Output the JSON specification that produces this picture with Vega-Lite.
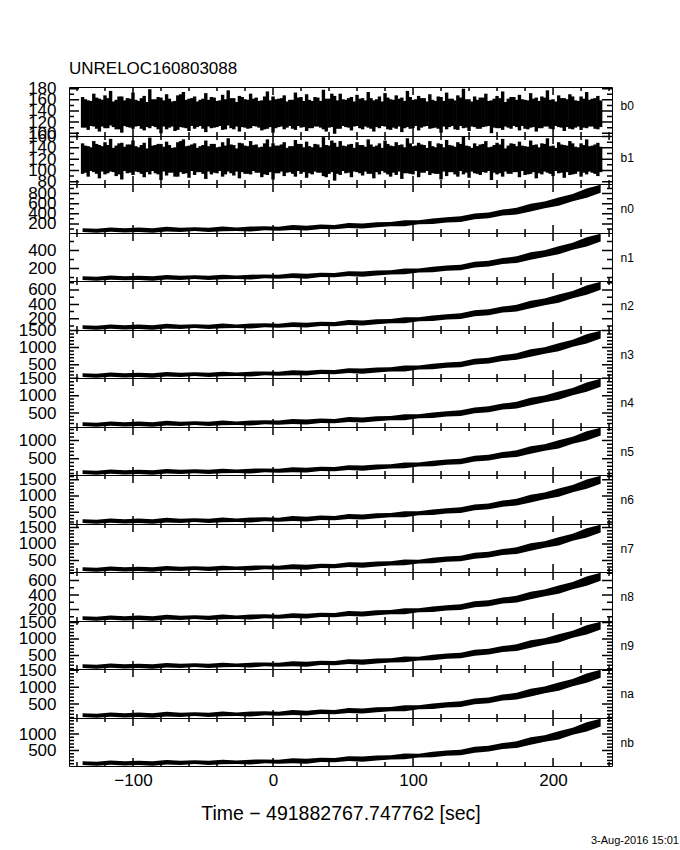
{
"$schema": "https://vega.github.io/schema/vega-lite/v6.json",
"padding": {"left": 17, "top": 60, "right": 2, "bottom": 2},
"title": {"text": "UNRELOC160803088", "anchor": "start", "frame": "group", "fontSize": 17, "fontWeight": "normal", "color": "black", "font": "Liberation Sans", "offset": 1},
"spacing": 0,
"bounds": "flush",
"datasets": {
"xt": [{"v":-100},{"v":0},{"v":100},{"v":200}],
"xm": [{"v":-140},{"v":-120},{"v":-80},{"v":-60},{"v":-40},{"v":-20},{"v":20},{"v":40},{"v":60},{"v":80},{"v":120},{"v":140},{"v":160},{"v":180},{"v":220},{"v":240}],
"yt": [
{"c":"b0","v":100},{"c":"b0","v":120},{"c":"b0","v":140},{"c":"b0","v":160},{"c":"b0","v":180},
{"c":"b1","v":80},{"c":"b1","v":100},{"c":"b1","v":120},{"c":"b1","v":140},{"c":"b1","v":160},
{"c":"n0","v":200},{"c":"n0","v":400},{"c":"n0","v":600},{"c":"n0","v":800},
{"c":"n1","v":200},{"c":"n1","v":400},
{"c":"n2","v":200},{"c":"n2","v":400},{"c":"n2","v":600},
{"c":"n3","v":500},{"c":"n3","v":1000},{"c":"n3","v":1500},
{"c":"n4","v":500},{"c":"n4","v":1000},{"c":"n4","v":1500},
{"c":"n5","v":500},{"c":"n5","v":1000},
{"c":"n6","v":500},{"c":"n6","v":1000},{"c":"n6","v":1500},
{"c":"n7","v":500},{"c":"n7","v":1000},{"c":"n7","v":1500},
{"c":"n8","v":200},{"c":"n8","v":400},{"c":"n8","v":600},
{"c":"n9","v":500},{"c":"n9","v":1000},{"c":"n9","v":1500},
{"c":"na","v":500},{"c":"na","v":1000},{"c":"na","v":1500},
{"c":"nb","v":500},{"c":"nb","v":1000}
],
"ym": [
{"c":"b0","v":110},{"c":"b0","v":130},{"c":"b0","v":150},{"c":"b0","v":170},
{"c":"b1","v":90},{"c":"b1","v":110},{"c":"b1","v":130},{"c":"b1","v":150},
{"c":"n0","v":100},{"c":"n0","v":300},{"c":"n0","v":500},{"c":"n0","v":700},{"c":"n0","v":900},
{"c":"n1","v":100},{"c":"n1","v":300},{"c":"n1","v":500},
{"c":"n2","v":100},{"c":"n2","v":300},{"c":"n2","v":500},{"c":"n2","v":700},
{"c":"n3","v":200},{"c":"n3","v":300},{"c":"n3","v":400},{"c":"n3","v":600},{"c":"n3","v":700},{"c":"n3","v":800},{"c":"n3","v":900},{"c":"n3","v":1100},{"c":"n3","v":1200},{"c":"n3","v":1300},{"c":"n3","v":1400},
{"c":"n4","v":200},{"c":"n4","v":300},{"c":"n4","v":400},{"c":"n4","v":600},{"c":"n4","v":700},{"c":"n4","v":800},{"c":"n4","v":900},{"c":"n4","v":1100},{"c":"n4","v":1200},{"c":"n4","v":1300},{"c":"n4","v":1400},
{"c":"n5","v":100},{"c":"n5","v":200},{"c":"n5","v":300},{"c":"n5","v":400},{"c":"n5","v":600},{"c":"n5","v":700},{"c":"n5","v":800},{"c":"n5","v":900},{"c":"n5","v":1100},{"c":"n5","v":1200},{"c":"n5","v":1300},
{"c":"n6","v":200},{"c":"n6","v":300},{"c":"n6","v":400},{"c":"n6","v":600},{"c":"n6","v":700},{"c":"n6","v":800},{"c":"n6","v":900},{"c":"n6","v":1100},{"c":"n6","v":1200},{"c":"n6","v":1300},{"c":"n6","v":1400},{"c":"n6","v":1600},
{"c":"n7","v":200},{"c":"n7","v":300},{"c":"n7","v":400},{"c":"n7","v":600},{"c":"n7","v":700},{"c":"n7","v":800},{"c":"n7","v":900},{"c":"n7","v":1100},{"c":"n7","v":1200},{"c":"n7","v":1300},{"c":"n7","v":1400},{"c":"n7","v":1600},
{"c":"n8","v":100},{"c":"n8","v":300},{"c":"n8","v":500},{"c":"n8","v":700},
{"c":"n9","v":100},{"c":"n9","v":200},{"c":"n9","v":300},{"c":"n9","v":400},{"c":"n9","v":600},{"c":"n9","v":700},{"c":"n9","v":800},{"c":"n9","v":900},{"c":"n9","v":1100},{"c":"n9","v":1200},{"c":"n9","v":1300},{"c":"n9","v":1400},
{"c":"na","v":100},{"c":"na","v":200},{"c":"na","v":300},{"c":"na","v":400},{"c":"na","v":600},{"c":"na","v":700},{"c":"na","v":800},{"c":"na","v":900},{"c":"na","v":1100},{"c":"na","v":1200},{"c":"na","v":1300},{"c":"na","v":1400},
{"c":"nb","v":100},{"c":"nb","v":200},{"c":"nb","v":300},{"c":"nb","v":400},{"c":"nb","v":600},{"c":"nb","v":700},{"c":"nb","v":800},{"c":"nb","v":900},{"c":"nb","v":1100},{"c":"nb","v":1200},{"c":"nb","v":1300},{"c":"nb","v":1400}
],
"b": [
{"t":-136,"b0l":110,"b0h":165,"b1l":94,"b1h":148},{"t":-132,"b0l":106,"b0h":159,"b1l":89,"b1h":143},{"t":-128,"b0l":112,"b0h":171,"b1l":97,"b1h":152},{"t":-124,"b0l":103,"b0h":162,"b1l":86,"b1h":145},{"t":-120,"b0l":109,"b0h":168,"b1l":93,"b1h":150},{"t":-116,"b0l":114,"b0h":176,"b1l":98,"b1h":156},{"t":-112,"b0l":107,"b0h":160,"b1l":90,"b1h":144},{"t":-108,"b0l":101,"b0h":166,"b1l":84,"b1h":149},{"t":-104,"b0l":111,"b0h":163,"b1l":95,"b1h":146},{"t":-100,"b0l":108,"b0h":173,"b1l":92,"b1h":153},
{"t":-134,"b0l":110,"b0h":161,"b1l":96,"b1h":144},{"t":-130,"b0l":113,"b0h":158,"b1l":99,"b1h":141},{"t":-126,"b0l":108,"b0h":164,"b1l":94,"b1h":147},{"t":-122,"b0l":112,"b0h":160,"b1l":98,"b1h":143},{"t":-118,"b0l":109,"b0h":163,"b1l":95,"b1h":145},{"t":-114,"b0l":111,"b0h":157,"b1l":97,"b1h":140},{"t":-110,"b0l":107,"b0h":166,"b1l":93,"b1h":148},{"t":-106,"b0l":113,"b0h":159,"b1l":99,"b1h":142},{"t":-102,"b0l":110,"b0h":162,"b1l":96,"b1h":146},{"t":-98,"b0l":112,"b0h":160,"b1l":98,"b1h":143},
{"t":-96,"b0l":113,"b0h":158,"b1l":97,"b1h":141},{"t":-92,"b0l":105,"b0h":167,"b1l":88,"b1h":149},{"t":-88,"b0l":109,"b0h":179,"b1l":93,"b1h":158},{"t":-84,"b0l":111,"b0h":161,"b1l":95,"b1h":145},{"t":-80,"b0l":100,"b0h":164,"b1l":83,"b1h":147},{"t":-76,"b0l":107,"b0h":170,"b1l":91,"b1h":151},{"t":-72,"b0l":112,"b0h":157,"b1l":96,"b1h":140},{"t":-68,"b0l":106,"b0h":168,"b1l":89,"b1h":150},{"t":-64,"b0l":110,"b0h":174,"b1l":94,"b1h":155},{"t":-60,"b0l":104,"b0h":162,"b1l":87,"b1h":144},
{"t":-94,"b0l":108,"b0h":163,"b1l":94,"b1h":145},{"t":-90,"b0l":111,"b0h":156,"b1l":97,"b1h":139},{"t":-86,"b0l":113,"b0h":161,"b1l":99,"b1h":144},{"t":-82,"b0l":107,"b0h":165,"b1l":93,"b1h":147},{"t":-78,"b0l":112,"b0h":159,"b1l":98,"b1h":142},{"t":-74,"b0l":110,"b0h":162,"b1l":96,"b1h":145},{"t":-70,"b0l":104,"b0h":158,"b1l":89,"b1h":141},{"t":-66,"b0l":111,"b0h":170,"b1l":97,"b1h":152},{"t":-62,"b0l":109,"b0h":160,"b1l":95,"b1h":143},{"t":-58,"b0l":113,"b0h":163,"b1l":99,"b1h":146},
{"t":-56,"b0l":108,"b0h":166,"b1l":92,"b1h":148},{"t":-52,"b0l":113,"b0h":160,"b1l":97,"b1h":143},{"t":-48,"b0l":102,"b0h":172,"b1l":85,"b1h":153},{"t":-44,"b0l":109,"b0h":165,"b1l":93,"b1h":147},{"t":-40,"b0l":111,"b0h":158,"b1l":95,"b1h":141},{"t":-36,"b0l":106,"b0h":169,"b1l":89,"b1h":150},{"t":-32,"b0l":114,"b0h":177,"b1l":98,"b1h":157},{"t":-28,"b0l":107,"b0h":163,"b1l":91,"b1h":145},{"t":-24,"b0l":103,"b0h":167,"b1l":86,"b1h":149},{"t":-20,"b0l":110,"b0h":161,"b1l":94,"b1h":144},
{"t":-54,"b0l":111,"b0h":157,"b1l":97,"b1h":140},{"t":-50,"b0l":108,"b0h":162,"b1l":94,"b1h":145},{"t":-46,"b0l":112,"b0h":160,"b1l":98,"b1h":143},{"t":-42,"b0l":110,"b0h":164,"b1l":96,"b1h":147},{"t":-38,"b0l":113,"b0h":159,"b1l":99,"b1h":142},{"t":-34,"b0l":107,"b0h":161,"b1l":93,"b1h":144},{"t":-30,"b0l":109,"b0h":163,"b1l":95,"b1h":146},{"t":-26,"b0l":112,"b0h":156,"b1l":98,"b1h":139},{"t":-22,"b0l":111,"b0h":165,"b1l":97,"b1h":148},{"t":-18,"b0l":108,"b0h":160,"b1l":94,"b1h":143},
{"t":-16,"b0l":109,"b0h":171,"b1l":93,"b1h":152},{"t":-12,"b0l":112,"b0h":164,"b1l":96,"b1h":146},{"t":-8,"b0l":105,"b0h":159,"b1l":88,"b1h":142},{"t":-4,"b0l":108,"b0h":175,"b1l":92,"b1h":155},{"t":0,"b0l":101,"b0h":166,"b1l":84,"b1h":148},{"t":4,"b0l":111,"b0h":162,"b1l":95,"b1h":144},{"t":8,"b0l":107,"b0h":168,"b1l":90,"b1h":150},{"t":12,"b0l":113,"b0h":160,"b1l":97,"b1h":143},{"t":16,"b0l":106,"b0h":173,"b1l":89,"b1h":154},{"t":20,"b0l":110,"b0h":165,"b1l":94,"b1h":147},
{"t":-14,"b0l":113,"b0h":162,"b1l":99,"b1h":145},{"t":-10,"b0l":110,"b0h":158,"b1l":96,"b1h":141},{"t":-6,"b0l":107,"b0h":166,"b1l":93,"b1h":148},{"t":-2,"b0l":111,"b0h":159,"b1l":97,"b1h":142},{"t":2,"b0l":109,"b0h":161,"b1l":95,"b1h":144},{"t":6,"b0l":112,"b0h":163,"b1l":98,"b1h":146},{"t":10,"b0l":110,"b0h":157,"b1l":96,"b1h":140},{"t":14,"b0l":108,"b0h":160,"b1l":94,"b1h":143},{"t":18,"b0l":113,"b0h":164,"b1l":99,"b1h":147},{"t":22,"b0l":111,"b0h":158,"b1l":97,"b1h":141},
{"t":24,"b0l":104,"b0h":170,"b1l":87,"b1h":151},{"t":28,"b0l":109,"b0h":158,"b1l":93,"b1h":141},{"t":32,"b0l":112,"b0h":164,"b1l":96,"b1h":146},{"t":36,"b0l":107,"b0h":178,"b1l":90,"b1h":159},{"t":40,"b0l":110,"b0h":162,"b1l":94,"b1h":144},{"t":44,"b0l":99,"b0h":167,"b1l":82,"b1h":149},{"t":48,"b0l":108,"b0h":171,"b1l":92,"b1h":152},{"t":52,"b0l":111,"b0h":160,"b1l":95,"b1h":143},{"t":56,"b0l":105,"b0h":165,"b1l":88,"b1h":147},{"t":60,"b0l":113,"b0h":169,"b1l":97,"b1h":150},
{"t":26,"b0l":109,"b0h":160,"b1l":95,"b1h":143},{"t":30,"b0l":112,"b0h":165,"b1l":98,"b1h":147},{"t":34,"b0l":110,"b0h":158,"b1l":96,"b1h":141},{"t":38,"b0l":103,"b0h":162,"b1l":88,"b1h":145},{"t":42,"b0l":111,"b0h":171,"b1l":97,"b1h":153},{"t":46,"b0l":108,"b0h":159,"b1l":94,"b1h":142},{"t":50,"b0l":113,"b0h":161,"b1l":99,"b1h":144},{"t":54,"b0l":110,"b0h":163,"b1l":96,"b1h":146},{"t":58,"b0l":112,"b0h":157,"b1l":98,"b1h":140},{"t":62,"b0l":109,"b0h":162,"b1l":95,"b1h":145},
{"t":64,"b0l":107,"b0h":163,"b1l":91,"b1h":145},{"t":68,"b0l":110,"b0h":174,"b1l":94,"b1h":155},{"t":72,"b0l":103,"b0h":159,"b1l":86,"b1h":142},{"t":76,"b0l":109,"b0h":166,"b1l":93,"b1h":148},{"t":80,"b0l":112,"b0h":172,"b1l":96,"b1h":153},{"t":84,"b0l":106,"b0h":161,"b1l":89,"b1h":144},{"t":88,"b0l":108,"b0h":168,"b1l":92,"b1h":150},{"t":92,"b0l":102,"b0h":164,"b1l":85,"b1h":146},{"t":96,"b0l":111,"b0h":176,"b1l":95,"b1h":157},{"t":100,"b0l":109,"b0h":160,"b1l":93,"b1h":143},
{"t":66,"b0l":112,"b0h":159,"b1l":98,"b1h":142},{"t":70,"b0l":108,"b0h":163,"b1l":94,"b1h":146},{"t":74,"b0l":111,"b0h":161,"b1l":97,"b1h":144},{"t":78,"b0l":113,"b0h":157,"b1l":99,"b1h":140},{"t":82,"b0l":107,"b0h":164,"b1l":93,"b1h":147},{"t":86,"b0l":110,"b0h":160,"b1l":96,"b1h":143},{"t":90,"b0l":112,"b0h":162,"b1l":98,"b1h":145},{"t":94,"b0l":109,"b0h":158,"b1l":95,"b1h":141},{"t":98,"b0l":108,"b0h":165,"b1l":94,"b1h":148},{"t":102,"b0l":113,"b0h":161,"b1l":99,"b1h":144},
{"t":104,"b0l":105,"b0h":167,"b1l":88,"b1h":149},{"t":108,"b0l":112,"b0h":163,"b1l":96,"b1h":145},{"t":112,"b0l":108,"b0h":170,"b1l":92,"b1h":152},{"t":116,"b0l":110,"b0h":158,"b1l":94,"b1h":141},{"t":120,"b0l":101,"b0h":165,"b1l":84,"b1h":147},{"t":124,"b0l":107,"b0h":173,"b1l":90,"b1h":154},{"t":128,"b0l":113,"b0h":162,"b1l":97,"b1h":144},{"t":132,"b0l":106,"b0h":168,"b1l":89,"b1h":150},{"t":136,"b0l":109,"b0h":180,"b1l":93,"b1h":160},{"t":140,"b0l":104,"b0h":161,"b1l":87,"b1h":143},
{"t":106,"b0l":110,"b0h":163,"b1l":96,"b1h":146},{"t":110,"b0l":113,"b0h":157,"b1l":99,"b1h":140},{"t":114,"b0l":109,"b0h":160,"b1l":95,"b1h":143},{"t":118,"b0l":108,"b0h":166,"b1l":94,"b1h":148},{"t":122,"b0l":112,"b0h":158,"b1l":98,"b1h":141},{"t":126,"b0l":111,"b0h":162,"b1l":97,"b1h":145},{"t":130,"b0l":107,"b0h":159,"b1l":93,"b1h":142},{"t":134,"b0l":113,"b0h":164,"b1l":99,"b1h":147},{"t":138,"b0l":110,"b0h":161,"b1l":96,"b1h":144},{"t":142,"b0l":112,"b0h":157,"b1l":98,"b1h":140},
{"t":144,"b0l":111,"b0h":166,"b1l":95,"b1h":148},{"t":148,"b0l":108,"b0h":164,"b1l":92,"b1h":146},{"t":152,"b0l":112,"b0h":171,"b1l":96,"b1h":152},{"t":156,"b0l":100,"b0h":159,"b1l":83,"b1h":142},{"t":160,"b0l":109,"b0h":167,"b1l":93,"b1h":149},{"t":164,"b0l":106,"b0h":175,"b1l":89,"b1h":156},{"t":168,"b0l":110,"b0h":162,"b1l":94,"b1h":144},{"t":172,"b0l":113,"b0h":165,"b1l":97,"b1h":147},{"t":176,"b0l":105,"b0h":169,"b1l":88,"b1h":151},{"t":180,"b0l":108,"b0h":160,"b1l":92,"b1h":143},
{"t":146,"b0l":108,"b0h":160,"b1l":94,"b1h":143},{"t":150,"b0l":111,"b0h":164,"b1l":97,"b1h":147},{"t":154,"b0l":113,"b0h":158,"b1l":99,"b1h":141},{"t":158,"b0l":110,"b0h":162,"b1l":96,"b1h":145},{"t":162,"b0l":109,"b0h":163,"b1l":95,"b1h":146},{"t":166,"b0l":112,"b0h":156,"b1l":98,"b1h":139},{"t":170,"b0l":108,"b0h":165,"b1l":94,"b1h":148},{"t":174,"b0l":111,"b0h":160,"b1l":97,"b1h":143},{"t":178,"b0l":113,"b0h":161,"b1l":99,"b1h":144},{"t":182,"b0l":107,"b0h":159,"b1l":93,"b1h":142},
{"t":184,"b0l":110,"b0h":172,"b1l":94,"b1h":153},{"t":188,"b0l":103,"b0h":164,"b1l":86,"b1h":146},{"t":192,"b0l":109,"b0h":166,"b1l":93,"b1h":148},{"t":196,"b0l":112,"b0h":177,"b1l":96,"b1h":157},{"t":200,"b0l":107,"b0h":161,"b1l":90,"b1h":144},{"t":204,"b0l":111,"b0h":168,"b1l":95,"b1h":150},{"t":208,"b0l":104,"b0h":163,"b1l":87,"b1h":145},{"t":212,"b0l":108,"b0h":170,"b1l":92,"b1h":152},{"t":216,"b0l":110,"b0h":159,"b1l":94,"b1h":142},{"t":220,"b0l":106,"b0h":166,"b1l":89,"b1h":148},
{"t":186,"b0l":111,"b0h":162,"b1l":97,"b1h":145},{"t":190,"b0l":109,"b0h":158,"b1l":95,"b1h":141},{"t":194,"b0l":112,"b0h":164,"b1l":98,"b1h":147},{"t":198,"b0l":108,"b0h":160,"b1l":94,"b1h":143},{"t":202,"b0l":113,"b0h":157,"b1l":99,"b1h":140},{"t":206,"b0l":110,"b0h":163,"b1l":96,"b1h":146},{"t":210,"b0l":111,"b0h":161,"b1l":97,"b1h":144},{"t":214,"b0l":107,"b0h":166,"b1l":93,"b1h":148},{"t":218,"b0l":112,"b0h":158,"b1l":98,"b1h":141},{"t":222,"b0l":110,"b0h":162,"b1l":96,"b1h":145},
{"t":224,"b0l":109,"b0h":174,"b1l":93,"b1h":155},{"t":228,"b0l":112,"b0h":162,"b1l":96,"b1h":144},{"t":232,"b0l":107,"b0h":167,"b1l":90,"b1h":149},
{"t":226,"b0l":112,"b0h":160,"b1l":98,"b1h":143},{"t":230,"b0l":108,"b0h":163,"b1l":94,"b1h":146},{"t":234,"b0l":111,"b0h":159,"b1l":97,"b1h":142}
],
"n": [
{"c":"n0","t":-136,"l":38,"h":116},{"c":"n0","t":-126,"l":26,"h":106},{"c":"n0","t":-116,"l":46,"h":130},{"c":"n0","t":-106,"l":32,"h":114},{"c":"n0","t":-96,"l":40,"h":128},{"c":"n0","t":-86,"l":24,"h":114},{"c":"n0","t":-76,"l":50,"h":142},{"c":"n0","t":-66,"l":40,"h":124},{"c":"n0","t":-56,"l":58,"h":136},{"c":"n0","t":-46,"l":38,"h":126},{"c":"n0","t":-36,"l":54,"h":148},{"c":"n0","t":-26,"l":60,"h":130},{"c":"n0","t":-16,"l":50,"h":148},{"c":"n0","t":-6,"l":76,"h":152},{"c":"n0","t":4,"l":64,"h":146},{"c":"n0","t":14,"l":78,"h":176},{"c":"n0","t":24,"l":68,"h":166},{"c":"n0","t":34,"l":100,"h":186},{"c":"n0","t":44,"l":96,"h":180},{"c":"n0","t":54,"l":120,"h":216},{"c":"n0","t":64,"l":108,"h":210},{"c":"n0","t":74,"l":132,"h":232},{"c":"n0","t":84,"l":152,"h":236},{"c":"n0","t":94,"l":154,"h":272},{"c":"n0","t":104,"l":192,"h":270},{"c":"n0","t":114,"l":196,"h":308},{"c":"n0","t":124,"l":228,"h":332},{"c":"n0","t":134,"l":236,"h":350},{"c":"n0","t":144,"l":290,"h":408},{"c":"n0","t":154,"l":312,"h":428},{"c":"n0","t":164,"l":364,"h":484},{"c":"n0","t":174,"l":386,"h":518},{"c":"n0","t":184,"l":448,"h":600},{"c":"n0","t":194,"l":508,"h":642},{"c":"n0","t":204,"l":558,"h":722},{"c":"n0","t":214,"l":650,"h":792},{"c":"n0","t":224,"l":716,"h":902},{"c":"n0","t":234,"l":816,"h":976},
{"c":"n1","t":-136,"l":70,"h":113},{"c":"n1","t":-126,"l":63,"h":107},{"c":"n1","t":-116,"l":74,"h":121},{"c":"n1","t":-106,"l":67,"h":112},{"c":"n1","t":-96,"l":71,"h":119},{"c":"n1","t":-86,"l":62,"h":112},{"c":"n1","t":-76,"l":77,"h":127},{"c":"n1","t":-66,"l":71,"h":117},{"c":"n1","t":-56,"l":81,"h":124},{"c":"n1","t":-46,"l":70,"h":118},{"c":"n1","t":-36,"l":79,"h":130},{"c":"n1","t":-26,"l":82,"h":121},{"c":"n1","t":-16,"l":77,"h":130},{"c":"n1","t":-6,"l":91,"h":133},{"c":"n1","t":4,"l":84,"h":129},{"c":"n1","t":14,"l":92,"h":146},{"c":"n1","t":24,"l":86,"h":140},{"c":"n1","t":34,"l":104,"h":151},{"c":"n1","t":44,"l":102,"h":148},{"c":"n1","t":54,"l":115,"h":168},{"c":"n1","t":64,"l":108,"h":165},{"c":"n1","t":74,"l":122,"h":177},{"c":"n1","t":84,"l":133,"h":179},{"c":"n1","t":94,"l":134,"h":199},{"c":"n1","t":104,"l":155,"h":198},{"c":"n1","t":114,"l":157,"h":218},{"c":"n1","t":124,"l":174,"h":232},{"c":"n1","t":134,"l":179,"h":242},{"c":"n1","t":144,"l":209,"h":273},{"c":"n1","t":154,"l":221,"h":284},{"c":"n1","t":164,"l":249,"h":315},{"c":"n1","t":174,"l":261,"h":334},{"c":"n1","t":184,"l":295,"h":379},{"c":"n1","t":194,"l":328,"h":402},{"c":"n1","t":204,"l":356,"h":446},{"c":"n1","t":214,"l":407,"h":485},{"c":"n1","t":224,"l":443,"h":545},{"c":"n1","t":234,"l":498,"h":586},
{"c":"n2","t":-136,"l":58,"h":112},{"c":"n2","t":-126,"l":49,"h":105},{"c":"n2","t":-116,"l":63,"h":122},{"c":"n2","t":-106,"l":53,"h":111},{"c":"n2","t":-96,"l":59,"h":121},{"c":"n2","t":-86,"l":48,"h":111},{"c":"n2","t":-76,"l":66,"h":130},{"c":"n2","t":-66,"l":59,"h":118},{"c":"n2","t":-56,"l":72,"h":126},{"c":"n2","t":-46,"l":58,"h":119},{"c":"n2","t":-36,"l":69,"h":135},{"c":"n2","t":-26,"l":73,"h":122},{"c":"n2","t":-16,"l":66,"h":135},{"c":"n2","t":-6,"l":84,"h":137},{"c":"n2","t":4,"l":76,"h":133},{"c":"n2","t":14,"l":86,"h":154},{"c":"n2","t":24,"l":79,"h":147},{"c":"n2","t":34,"l":101,"h":161},{"c":"n2","t":44,"l":98,"h":157},{"c":"n2","t":54,"l":115,"h":182},{"c":"n2","t":64,"l":107,"h":178},{"c":"n2","t":74,"l":123,"h":193},{"c":"n2","t":84,"l":137,"h":196},{"c":"n2","t":94,"l":139,"h":221},{"c":"n2","t":104,"l":165,"h":220},{"c":"n2","t":114,"l":168,"h":247},{"c":"n2","t":124,"l":191,"h":263},{"c":"n2","t":134,"l":196,"h":276},{"c":"n2","t":144,"l":234,"h":317},{"c":"n2","t":154,"l":249,"h":331},{"c":"n2","t":164,"l":286,"h":370},{"c":"n2","t":174,"l":301,"h":394},{"c":"n2","t":184,"l":345,"h":451},{"c":"n2","t":194,"l":387,"h":480},{"c":"n2","t":204,"l":422,"h":536},{"c":"n2","t":214,"l":486,"h":585},{"c":"n2","t":224,"l":532,"h":662},{"c":"n2","t":234,"l":602,"h":714},
{"c":"n3","t":-136,"l":136,"h":249},{"c":"n3","t":-126,"l":119,"h":235},{"c":"n3","t":-116,"l":148,"h":270},{"c":"n3","t":-106,"l":127,"h":246},{"c":"n3","t":-96,"l":139,"h":267},{"c":"n3","t":-86,"l":116,"h":246},{"c":"n3","t":-76,"l":154,"h":287},{"c":"n3","t":-66,"l":139,"h":261},{"c":"n3","t":-56,"l":165,"h":278},{"c":"n3","t":-46,"l":136,"h":264},{"c":"n3","t":-36,"l":159,"h":296},{"c":"n3","t":-26,"l":168,"h":270},{"c":"n3","t":-16,"l":154,"h":296},{"c":"n3","t":-6,"l":191,"h":301},{"c":"n3","t":4,"l":174,"h":293},{"c":"n3","t":14,"l":194,"h":336},{"c":"n3","t":24,"l":180,"h":322},{"c":"n3","t":34,"l":226,"h":351},{"c":"n3","t":44,"l":220,"h":342},{"c":"n3","t":54,"l":255,"h":394},{"c":"n3","t":64,"l":238,"h":386},{"c":"n3","t":74,"l":272,"h":417},{"c":"n3","t":84,"l":301,"h":423},{"c":"n3","t":94,"l":304,"h":475},{"c":"n3","t":104,"l":359,"h":473},{"c":"n3","t":114,"l":365,"h":528},{"c":"n3","t":124,"l":412,"h":562},{"c":"n3","t":134,"l":423,"h":589},{"c":"n3","t":144,"l":502,"h":673},{"c":"n3","t":154,"l":533,"h":702},{"c":"n3","t":164,"l":609,"h":783},{"c":"n3","t":174,"l":641,"h":832},{"c":"n3","t":184,"l":731,"h":951},{"c":"n3","t":194,"l":818,"h":1012},{"c":"n3","t":204,"l":890,"h":1128},{"c":"n3","t":214,"l":1024,"h":1229},{"c":"n3","t":224,"l":1119,"h":1389},{"c":"n3","t":234,"l":1264,"h":1496},
{"c":"n4","t":-136,"l":126,"h":239},{"c":"n4","t":-126,"l":109,"h":225},{"c":"n4","t":-116,"l":138,"h":260},{"c":"n4","t":-106,"l":117,"h":236},{"c":"n4","t":-96,"l":129,"h":257},{"c":"n4","t":-86,"l":106,"h":236},{"c":"n4","t":-76,"l":144,"h":277},{"c":"n4","t":-66,"l":129,"h":251},{"c":"n4","t":-56,"l":155,"h":268},{"c":"n4","t":-46,"l":126,"h":254},{"c":"n4","t":-36,"l":149,"h":286},{"c":"n4","t":-26,"l":158,"h":260},{"c":"n4","t":-16,"l":144,"h":286},{"c":"n4","t":-6,"l":181,"h":291},{"c":"n4","t":4,"l":164,"h":283},{"c":"n4","t":14,"l":184,"h":326},{"c":"n4","t":24,"l":170,"h":312},{"c":"n4","t":34,"l":216,"h":341},{"c":"n4","t":44,"l":210,"h":332},{"c":"n4","t":54,"l":245,"h":384},{"c":"n4","t":64,"l":228,"h":376},{"c":"n4","t":74,"l":262,"h":407},{"c":"n4","t":84,"l":291,"h":413},{"c":"n4","t":94,"l":294,"h":465},{"c":"n4","t":104,"l":349,"h":463},{"c":"n4","t":114,"l":355,"h":518},{"c":"n4","t":124,"l":402,"h":552},{"c":"n4","t":134,"l":413,"h":579},{"c":"n4","t":144,"l":492,"h":663},{"c":"n4","t":154,"l":523,"h":692},{"c":"n4","t":164,"l":599,"h":773},{"c":"n4","t":174,"l":631,"h":822},{"c":"n4","t":184,"l":721,"h":941},{"c":"n4","t":194,"l":808,"h":1002},{"c":"n4","t":204,"l":880,"h":1118},{"c":"n4","t":214,"l":1014,"h":1219},{"c":"n4","t":224,"l":1109,"h":1379},{"c":"n4","t":234,"l":1254,"h":1486},
{"c":"n5","t":-136,"l":84,"h":190},{"c":"n5","t":-126,"l":68,"h":176},{"c":"n5","t":-116,"l":95,"h":209},{"c":"n5","t":-106,"l":76,"h":187},{"c":"n5","t":-96,"l":87,"h":206},{"c":"n5","t":-86,"l":65,"h":187},{"c":"n5","t":-76,"l":101,"h":225},{"c":"n5","t":-66,"l":87,"h":200},{"c":"n5","t":-56,"l":111,"h":217},{"c":"n5","t":-46,"l":84,"h":203},{"c":"n5","t":-36,"l":106,"h":233},{"c":"n5","t":-26,"l":114,"h":209},{"c":"n5","t":-16,"l":101,"h":233},{"c":"n5","t":-6,"l":136,"h":238},{"c":"n5","t":4,"l":119,"h":230},{"c":"n5","t":14,"l":138,"h":271},{"c":"n5","t":24,"l":125,"h":257},{"c":"n5","t":34,"l":168,"h":284},{"c":"n5","t":44,"l":163,"h":276},{"c":"n5","t":54,"l":195,"h":325},{"c":"n5","t":64,"l":179,"h":317},{"c":"n5","t":74,"l":211,"h":346},{"c":"n5","t":84,"l":238,"h":352},{"c":"n5","t":94,"l":241,"h":400},{"c":"n5","t":104,"l":292,"h":398},{"c":"n5","t":114,"l":298,"h":449},{"c":"n5","t":124,"l":341,"h":481},{"c":"n5","t":134,"l":352,"h":506},{"c":"n5","t":144,"l":425,"h":584},{"c":"n5","t":154,"l":454,"h":611},{"c":"n5","t":164,"l":524,"h":686},{"c":"n5","t":174,"l":554,"h":732},{"c":"n5","t":184,"l":638,"h":843},{"c":"n5","t":194,"l":719,"h":900},{"c":"n5","t":204,"l":786,"h":1008},{"c":"n5","t":214,"l":911,"h":1102},{"c":"n5","t":224,"l":1000,"h":1251},{"c":"n5","t":234,"l":1135,"h":1351},
{"c":"n6","t":-136,"l":168,"h":289},{"c":"n6","t":-126,"l":149,"h":273},{"c":"n6","t":-116,"l":180,"h":311},{"c":"n6","t":-106,"l":159,"h":286},{"c":"n6","t":-96,"l":171,"h":307},{"c":"n6","t":-86,"l":146,"h":286},{"c":"n6","t":-76,"l":187,"h":329},{"c":"n6","t":-66,"l":171,"h":301},{"c":"n6","t":-56,"l":199,"h":320},{"c":"n6","t":-46,"l":168,"h":304},{"c":"n6","t":-36,"l":193,"h":338},{"c":"n6","t":-26,"l":202,"h":311},{"c":"n6","t":-16,"l":187,"h":338},{"c":"n6","t":-6,"l":227,"h":345},{"c":"n6","t":4,"l":208,"h":335},{"c":"n6","t":14,"l":230,"h":382},{"c":"n6","t":24,"l":214,"h":366},{"c":"n6","t":34,"l":264,"h":397},{"c":"n6","t":44,"l":258,"h":388},{"c":"n6","t":54,"l":295,"h":444},{"c":"n6","t":64,"l":276,"h":435},{"c":"n6","t":74,"l":314,"h":469},{"c":"n6","t":84,"l":345,"h":475},{"c":"n6","t":94,"l":348,"h":531},{"c":"n6","t":104,"l":407,"h":528},{"c":"n6","t":114,"l":413,"h":586},{"c":"n6","t":124,"l":462,"h":624},{"c":"n6","t":134,"l":475,"h":652},{"c":"n6","t":144,"l":559,"h":741},{"c":"n6","t":154,"l":593,"h":772},{"c":"n6","t":164,"l":673,"h":859},{"c":"n6","t":174,"l":707,"h":912},{"c":"n6","t":184,"l":803,"h":1039},{"c":"n6","t":194,"l":896,"h":1104},{"c":"n6","t":204,"l":974,"h":1228},{"c":"n6","t":214,"l":1117,"h":1337},{"c":"n6","t":224,"l":1219,"h":1507},{"c":"n6","t":234,"l":1374,"h":1622},
{"c":"n7","t":-136,"l":177,"h":294},{"c":"n7","t":-126,"l":159,"h":279},{"c":"n7","t":-116,"l":189,"h":315},{"c":"n7","t":-106,"l":168,"h":291},{"c":"n7","t":-96,"l":180,"h":312},{"c":"n7","t":-86,"l":156,"h":291},{"c":"n7","t":-76,"l":195,"h":333},{"c":"n7","t":-66,"l":180,"h":306},{"c":"n7","t":-56,"l":207,"h":324},{"c":"n7","t":-46,"l":177,"h":309},{"c":"n7","t":-36,"l":201,"h":342},{"c":"n7","t":-26,"l":210,"h":315},{"c":"n7","t":-16,"l":195,"h":342},{"c":"n7","t":-6,"l":234,"h":348},{"c":"n7","t":4,"l":216,"h":339},{"c":"n7","t":14,"l":237,"h":384},{"c":"n7","t":24,"l":222,"h":369},{"c":"n7","t":34,"l":270,"h":399},{"c":"n7","t":44,"l":264,"h":390},{"c":"n7","t":54,"l":300,"h":444},{"c":"n7","t":64,"l":282,"h":435},{"c":"n7","t":74,"l":318,"h":468},{"c":"n7","t":84,"l":348,"h":474},{"c":"n7","t":94,"l":351,"h":528},{"c":"n7","t":104,"l":408,"h":525},{"c":"n7","t":114,"l":414,"h":582},{"c":"n7","t":124,"l":462,"h":618},{"c":"n7","t":134,"l":474,"h":645},{"c":"n7","t":144,"l":555,"h":732},{"c":"n7","t":154,"l":588,"h":762},{"c":"n7","t":164,"l":666,"h":846},{"c":"n7","t":174,"l":699,"h":897},{"c":"n7","t":184,"l":792,"h":1020},{"c":"n7","t":194,"l":882,"h":1083},{"c":"n7","t":204,"l":957,"h":1203},{"c":"n7","t":214,"l":1095,"h":1308},{"c":"n7","t":224,"l":1194,"h":1473},{"c":"n7","t":234,"l":1344,"h":1584},
{"c":"n8","t":-136,"l":53,"h":107},{"c":"n8","t":-126,"l":44,"h":100},{"c":"n8","t":-116,"l":58,"h":117},{"c":"n8","t":-106,"l":48,"h":106},{"c":"n8","t":-96,"l":54,"h":116},{"c":"n8","t":-86,"l":43,"h":106},{"c":"n8","t":-76,"l":61,"h":125},{"c":"n8","t":-66,"l":54,"h":113},{"c":"n8","t":-56,"l":67,"h":121},{"c":"n8","t":-46,"l":53,"h":114},{"c":"n8","t":-36,"l":64,"h":130},{"c":"n8","t":-26,"l":68,"h":117},{"c":"n8","t":-16,"l":61,"h":130},{"c":"n8","t":-6,"l":79,"h":132},{"c":"n8","t":4,"l":71,"h":128},{"c":"n8","t":14,"l":81,"h":149},{"c":"n8","t":24,"l":74,"h":142},{"c":"n8","t":34,"l":96,"h":156},{"c":"n8","t":44,"l":93,"h":152},{"c":"n8","t":54,"l":110,"h":177},{"c":"n8","t":64,"l":102,"h":173},{"c":"n8","t":74,"l":118,"h":188},{"c":"n8","t":84,"l":132,"h":191},{"c":"n8","t":94,"l":134,"h":216},{"c":"n8","t":104,"l":160,"h":215},{"c":"n8","t":114,"l":163,"h":242},{"c":"n8","t":124,"l":186,"h":258},{"c":"n8","t":134,"l":191,"h":271},{"c":"n8","t":144,"l":229,"h":312},{"c":"n8","t":154,"l":244,"h":326},{"c":"n8","t":164,"l":281,"h":365},{"c":"n8","t":174,"l":296,"h":389},{"c":"n8","t":184,"l":340,"h":446},{"c":"n8","t":194,"l":382,"h":475},{"c":"n8","t":204,"l":417,"h":531},{"c":"n8","t":214,"l":481,"h":580},{"c":"n8","t":224,"l":527,"h":657},{"c":"n8","t":234,"l":597,"h":709},
{"c":"n9","t":-136,"l":117,"h":234},{"c":"n9","t":-126,"l":99,"h":219},{"c":"n9","t":-116,"l":129,"h":255},{"c":"n9","t":-106,"l":108,"h":231},{"c":"n9","t":-96,"l":120,"h":252},{"c":"n9","t":-86,"l":96,"h":231},{"c":"n9","t":-76,"l":135,"h":273},{"c":"n9","t":-66,"l":120,"h":246},{"c":"n9","t":-56,"l":147,"h":264},{"c":"n9","t":-46,"l":117,"h":249},{"c":"n9","t":-36,"l":141,"h":282},{"c":"n9","t":-26,"l":150,"h":255},{"c":"n9","t":-16,"l":135,"h":282},{"c":"n9","t":-6,"l":174,"h":288},{"c":"n9","t":4,"l":156,"h":279},{"c":"n9","t":14,"l":177,"h":324},{"c":"n9","t":24,"l":162,"h":309},{"c":"n9","t":34,"l":210,"h":339},{"c":"n9","t":44,"l":204,"h":330},{"c":"n9","t":54,"l":240,"h":384},{"c":"n9","t":64,"l":222,"h":375},{"c":"n9","t":74,"l":258,"h":408},{"c":"n9","t":84,"l":288,"h":414},{"c":"n9","t":94,"l":291,"h":468},{"c":"n9","t":104,"l":348,"h":465},{"c":"n9","t":114,"l":354,"h":522},{"c":"n9","t":124,"l":402,"h":558},{"c":"n9","t":134,"l":414,"h":585},{"c":"n9","t":144,"l":495,"h":672},{"c":"n9","t":154,"l":528,"h":702},{"c":"n9","t":164,"l":606,"h":786},{"c":"n9","t":174,"l":639,"h":837},{"c":"n9","t":184,"l":732,"h":960},{"c":"n9","t":194,"l":822,"h":1023},{"c":"n9","t":204,"l":897,"h":1143},{"c":"n9","t":214,"l":1035,"h":1248},{"c":"n9","t":224,"l":1134,"h":1413},{"c":"n9","t":234,"l":1284,"h":1524},
{"c":"na","t":-136,"l":112,"h":229},{"c":"na","t":-126,"l":94,"h":214},{"c":"na","t":-116,"l":124,"h":250},{"c":"na","t":-106,"l":103,"h":226},{"c":"na","t":-96,"l":115,"h":247},{"c":"na","t":-86,"l":91,"h":226},{"c":"na","t":-76,"l":130,"h":268},{"c":"na","t":-66,"l":115,"h":241},{"c":"na","t":-56,"l":142,"h":259},{"c":"na","t":-46,"l":112,"h":244},{"c":"na","t":-36,"l":136,"h":277},{"c":"na","t":-26,"l":145,"h":250},{"c":"na","t":-16,"l":130,"h":277},{"c":"na","t":-6,"l":169,"h":283},{"c":"na","t":4,"l":151,"h":274},{"c":"na","t":14,"l":172,"h":319},{"c":"na","t":24,"l":157,"h":304},{"c":"na","t":34,"l":205,"h":334},{"c":"na","t":44,"l":199,"h":325},{"c":"na","t":54,"l":235,"h":379},{"c":"na","t":64,"l":217,"h":370},{"c":"na","t":74,"l":253,"h":403},{"c":"na","t":84,"l":283,"h":409},{"c":"na","t":94,"l":286,"h":463},{"c":"na","t":104,"l":343,"h":460},{"c":"na","t":114,"l":349,"h":517},{"c":"na","t":124,"l":397,"h":553},{"c":"na","t":134,"l":409,"h":580},{"c":"na","t":144,"l":490,"h":667},{"c":"na","t":154,"l":523,"h":697},{"c":"na","t":164,"l":601,"h":781},{"c":"na","t":174,"l":634,"h":832},{"c":"na","t":184,"l":727,"h":955},{"c":"na","t":194,"l":817,"h":1018},{"c":"na","t":204,"l":892,"h":1138},{"c":"na","t":214,"l":1030,"h":1243},{"c":"na","t":224,"l":1129,"h":1408},{"c":"na","t":234,"l":1279,"h":1519},
{"c":"nb","t":-136,"l":57,"h":174},{"c":"nb","t":-126,"l":39,"h":159},{"c":"nb","t":-116,"l":69,"h":195},{"c":"nb","t":-106,"l":48,"h":171},{"c":"nb","t":-96,"l":60,"h":192},{"c":"nb","t":-86,"l":36,"h":171},{"c":"nb","t":-76,"l":75,"h":213},{"c":"nb","t":-66,"l":60,"h":186},{"c":"nb","t":-56,"l":87,"h":204},{"c":"nb","t":-46,"l":57,"h":189},{"c":"nb","t":-36,"l":81,"h":222},{"c":"nb","t":-26,"l":90,"h":195},{"c":"nb","t":-16,"l":75,"h":222},{"c":"nb","t":-6,"l":114,"h":228},{"c":"nb","t":4,"l":96,"h":219},{"c":"nb","t":14,"l":117,"h":264},{"c":"nb","t":24,"l":102,"h":249},{"c":"nb","t":34,"l":150,"h":279},{"c":"nb","t":44,"l":144,"h":270},{"c":"nb","t":54,"l":180,"h":324},{"c":"nb","t":64,"l":162,"h":315},{"c":"nb","t":74,"l":198,"h":348},{"c":"nb","t":84,"l":228,"h":354},{"c":"nb","t":94,"l":231,"h":408},{"c":"nb","t":104,"l":288,"h":405},{"c":"nb","t":114,"l":294,"h":462},{"c":"nb","t":124,"l":342,"h":498},{"c":"nb","t":134,"l":354,"h":525},{"c":"nb","t":144,"l":435,"h":612},{"c":"nb","t":154,"l":468,"h":642},{"c":"nb","t":164,"l":546,"h":726},{"c":"nb","t":174,"l":579,"h":777},{"c":"nb","t":184,"l":672,"h":900},{"c":"nb","t":194,"l":762,"h":963},{"c":"nb","t":204,"l":837,"h":1083},{"c":"nb","t":214,"l":975,"h":1188},{"c":"nb","t":224,"l":1074,"h":1353},{"c":"nb","t":234,"l":1224,"h":1464}
]
},
"vconcat": [
{"height":49,"width":543,"data":{"name":"b"},"layer":[
 {"mark":{"type":"rule","color":"black","strokeWidth":3.4},"encoding":{"x":{"field":"t","type":"quantitative","scale":{"domain":[-145.7,242.1],"nice":false,"zero":false},"axis":null},"y":{"field":"b0l","type":"quantitative","scale":{"domain":[95,183],"nice":false,"zero":false},"axis":null},"y2":{"field":"b0h"}}},
 {"mark":{"type":"point","opacity":0},"encoding":{"x":{"field":"t","type":"quantitative","axis":null},"y":{"field":"b0l","type":"quantitative","axis":{"orient":"left","values":[100,120,140,160,180],"title":null}}}},
 {"mark":{"type":"point","opacity":0},"encoding":{"x":{"field":"t","type":"quantitative","axis":null},"y":{"field":"b0l","type":"quantitative","axis":{"orient":"right","values":[100,120,140,160,180],"labels":false,"title":"b0","titleY":18}}}},
 {"data":{"name":"yt"},"transform":[{"filter":"datum.c==='b0'"}],"mark":{"type":"rule","color":"black","strokeWidth":1.5,"strokeDash":[10,523]},"encoding":{"x":{"datum":-145.7,"type":"quantitative","axis":null},"x2":{"datum":242.1},"y":{"field":"v","type":"quantitative","axis":null}}},
 {"data":{"name":"ym"},"transform":[{"filter":"datum.c==='b0'"}],"mark":{"type":"rule","color":"black","strokeWidth":1.5,"strokeDash":[5,533]},"encoding":{"x":{"datum":-145.7,"type":"quantitative","axis":null},"x2":{"datum":242.1},"y":{"field":"v","type":"quantitative","axis":null}}},
 {"data":{"name":"xt"},"mark":{"type":"rule","color":"black","strokeWidth":1.5,"strokeDash":[8,33]},"encoding":{"x":{"field":"v","type":"quantitative","axis":null},"y":{"datum":95,"type":"quantitative","axis":null},"y2":{"datum":183}}},
 {"data":{"name":"xm"},"mark":{"type":"rule","color":"black","strokeWidth":1.5,"strokeDash":[4,41]},"encoding":{"x":{"field":"v","type":"quantitative","axis":null},"y":{"datum":95,"type":"quantitative","axis":null},"y2":{"datum":183}}}
 ],"resolve":{"axis":{"x":"independent","y":"independent"}}},
{"height":48,"width":543,"data":{"name":"b"},"layer":[
 {"mark":{"type":"rule","color":"black","strokeWidth":3.4},"encoding":{"x":{"field":"t","type":"quantitative","scale":{"domain":[-145.7,242.1],"nice":false,"zero":false},"axis":null},"y":{"field":"b1l","type":"quantitative","scale":{"domain":[76,161],"nice":false,"zero":false},"axis":null},"y2":{"field":"b1h"}}},
 {"mark":{"type":"point","opacity":0},"encoding":{"x":{"field":"t","type":"quantitative","axis":null},"y":{"field":"b1l","type":"quantitative","axis":{"orient":"left","values":[80,100,120,140,160],"title":null}}}},
 {"mark":{"type":"point","opacity":0},"encoding":{"x":{"field":"t","type":"quantitative","axis":null},"y":{"field":"b1l","type":"quantitative","axis":{"orient":"right","values":[80,100,120,140,160],"labels":false,"title":"b1","titleY":21}}}},
 {"data":{"name":"yt"},"transform":[{"filter":"datum.c==='b1'"}],"mark":{"type":"rule","color":"black","strokeWidth":1.5,"strokeDash":[10,523]},"encoding":{"x":{"datum":-145.7,"type":"quantitative","axis":null},"x2":{"datum":242.1},"y":{"field":"v","type":"quantitative","axis":null}}},
 {"data":{"name":"ym"},"transform":[{"filter":"datum.c==='b1'"}],"mark":{"type":"rule","color":"black","strokeWidth":1.5,"strokeDash":[5,533]},"encoding":{"x":{"datum":-145.7,"type":"quantitative","axis":null},"x2":{"datum":242.1},"y":{"field":"v","type":"quantitative","axis":null}}},
 {"data":{"name":"xt"},"mark":{"type":"rule","color":"black","strokeWidth":1.5,"strokeDash":[8,32]},"encoding":{"x":{"field":"v","type":"quantitative","axis":null},"y":{"datum":76,"type":"quantitative","axis":null},"y2":{"datum":161}}},
 {"data":{"name":"xm"},"mark":{"type":"rule","color":"black","strokeWidth":1.5,"strokeDash":[4,40]},"encoding":{"x":{"field":"v","type":"quantitative","axis":null},"y":{"datum":76,"type":"quantitative","axis":null},"y2":{"datum":161}}}
 ],"resolve":{"axis":{"x":"independent","y":"independent"}}},
{"height":49,"width":543,"data":{"name":"n"},"transform":[{"filter":"datum.c==='n0'"}],"layer":[
 {"mark":{"type":"area","color":"black"},"encoding":{"x":{"field":"t","type":"quantitative","scale":{"domain":[-145.7,242.1],"nice":false,"zero":false},"axis":null},"y":{"field":"l","type":"quantitative","scale":{"domain":[20,990],"nice":false,"zero":false},"axis":null},"y2":{"field":"h"}}},
 {"mark":{"type":"point","opacity":0},"encoding":{"x":{"field":"t","type":"quantitative","axis":null},"y":{"field":"l","type":"quantitative","axis":{"orient":"left","values":[200,400,600,800],"title":null}}}},
 {"mark":{"type":"point","opacity":0},"encoding":{"x":{"field":"t","type":"quantitative","axis":null},"y":{"field":"l","type":"quantitative","axis":{"orient":"right","values":[200,400,600,800],"labels":false,"title":"n0"}}}},
 {"data":{"name":"yt"},"transform":[{"filter":"datum.c==='n0'"}],"mark":{"type":"rule","color":"black","strokeWidth":1.5,"strokeDash":[10,523]},"encoding":{"x":{"datum":-145.7,"type":"quantitative","axis":null},"x2":{"datum":242.1},"y":{"field":"v","type":"quantitative","axis":null}}},
 {"data":{"name":"ym"},"transform":[{"filter":"datum.c==='n0'"}],"mark":{"type":"rule","color":"black","strokeWidth":1.5,"strokeDash":[5,533]},"encoding":{"x":{"datum":-145.7,"type":"quantitative","axis":null},"x2":{"datum":242.1},"y":{"field":"v","type":"quantitative","axis":null}}},
 {"data":{"name":"xt"},"mark":{"type":"rule","color":"black","strokeWidth":1.5,"strokeDash":[8,33]},"encoding":{"x":{"field":"v","type":"quantitative","axis":null},"y":{"datum":20,"type":"quantitative","axis":null},"y2":{"datum":990}}},
 {"data":{"name":"xm"},"mark":{"type":"rule","color":"black","strokeWidth":1.5,"strokeDash":[4,41]},"encoding":{"x":{"field":"v","type":"quantitative","axis":null},"y":{"datum":20,"type":"quantitative","axis":null},"y2":{"datum":990}}}
 ],"resolve":{"axis":{"x":"independent","y":"independent"}}},
{"height":48,"width":543,"data":{"name":"n"},"transform":[{"filter":"datum.c==='n1'"}],"layer":[
 {"mark":{"type":"area","color":"black"},"encoding":{"x":{"field":"t","type":"quantitative","scale":{"domain":[-145.7,242.1],"nice":false,"zero":false},"axis":null},"y":{"field":"l","type":"quantitative","scale":{"domain":[60,593.5],"nice":false,"zero":false},"axis":null},"y2":{"field":"h"}}},
 {"mark":{"type":"point","opacity":0},"encoding":{"x":{"field":"t","type":"quantitative","axis":null},"y":{"field":"l","type":"quantitative","axis":{"orient":"left","values":[200,400],"title":null}}}},
 {"mark":{"type":"point","opacity":0},"encoding":{"x":{"field":"t","type":"quantitative","axis":null},"y":{"field":"l","type":"quantitative","axis":{"orient":"right","values":[200,400],"labels":false,"title":"n1"}}}},
 {"data":{"name":"yt"},"transform":[{"filter":"datum.c==='n1'"}],"mark":{"type":"rule","color":"black","strokeWidth":1.5,"strokeDash":[10,523]},"encoding":{"x":{"datum":-145.7,"type":"quantitative","axis":null},"x2":{"datum":242.1},"y":{"field":"v","type":"quantitative","axis":null}}},
 {"data":{"name":"ym"},"transform":[{"filter":"datum.c==='n1'"}],"mark":{"type":"rule","color":"black","strokeWidth":1.5,"strokeDash":[5,533]},"encoding":{"x":{"datum":-145.7,"type":"quantitative","axis":null},"x2":{"datum":242.1},"y":{"field":"v","type":"quantitative","axis":null}}},
 {"data":{"name":"xt"},"mark":{"type":"rule","color":"black","strokeWidth":1.5,"strokeDash":[8,32]},"encoding":{"x":{"field":"v","type":"quantitative","axis":null},"y":{"datum":60,"type":"quantitative","axis":null},"y2":{"datum":593.5}}},
 {"data":{"name":"xm"},"mark":{"type":"rule","color":"black","strokeWidth":1.5,"strokeDash":[4,40]},"encoding":{"x":{"field":"v","type":"quantitative","axis":null},"y":{"datum":60,"type":"quantitative","axis":null},"y2":{"datum":593.5}}}
 ],"resolve":{"axis":{"x":"independent","y":"independent"}}},
{"height":49,"width":543,"data":{"name":"n"},"transform":[{"filter":"datum.c==='n2'"}],"layer":[
 {"mark":{"type":"area","color":"black"},"encoding":{"x":{"field":"t","type":"quantitative","scale":{"domain":[-145.7,242.1],"nice":false,"zero":false},"axis":null},"y":{"field":"l","type":"quantitative","scale":{"domain":[45,724],"nice":false,"zero":false},"axis":null},"y2":{"field":"h"}}},
 {"mark":{"type":"point","opacity":0},"encoding":{"x":{"field":"t","type":"quantitative","axis":null},"y":{"field":"l","type":"quantitative","axis":{"orient":"left","values":[200,400,600],"title":null}}}},
 {"mark":{"type":"point","opacity":0},"encoding":{"x":{"field":"t","type":"quantitative","axis":null},"y":{"field":"l","type":"quantitative","axis":{"orient":"right","values":[200,400,600],"labels":false,"title":"n2"}}}},
 {"data":{"name":"yt"},"transform":[{"filter":"datum.c==='n2'"}],"mark":{"type":"rule","color":"black","strokeWidth":1.5,"strokeDash":[10,523]},"encoding":{"x":{"datum":-145.7,"type":"quantitative","axis":null},"x2":{"datum":242.1},"y":{"field":"v","type":"quantitative","axis":null}}},
 {"data":{"name":"ym"},"transform":[{"filter":"datum.c==='n2'"}],"mark":{"type":"rule","color":"black","strokeWidth":1.5,"strokeDash":[5,533]},"encoding":{"x":{"datum":-145.7,"type":"quantitative","axis":null},"x2":{"datum":242.1},"y":{"field":"v","type":"quantitative","axis":null}}},
 {"data":{"name":"xt"},"mark":{"type":"rule","color":"black","strokeWidth":1.5,"strokeDash":[8,33]},"encoding":{"x":{"field":"v","type":"quantitative","axis":null},"y":{"datum":45,"type":"quantitative","axis":null},"y2":{"datum":724}}},
 {"data":{"name":"xm"},"mark":{"type":"rule","color":"black","strokeWidth":1.5,"strokeDash":[4,41]},"encoding":{"x":{"field":"v","type":"quantitative","axis":null},"y":{"datum":45,"type":"quantitative","axis":null},"y2":{"datum":724}}}
 ],"resolve":{"axis":{"x":"independent","y":"independent"}}},
{"height":48,"width":543,"data":{"name":"n"},"transform":[{"filter":"datum.c==='n3'"}],"layer":[
 {"mark":{"type":"area","color":"black"},"encoding":{"x":{"field":"t","type":"quantitative","scale":{"domain":[-145.7,242.1],"nice":false,"zero":false},"axis":null},"y":{"field":"l","type":"quantitative","scale":{"domain":[110,1516],"nice":false,"zero":false},"axis":null},"y2":{"field":"h"}}},
 {"mark":{"type":"point","opacity":0},"encoding":{"x":{"field":"t","type":"quantitative","axis":null},"y":{"field":"l","type":"quantitative","axis":{"orient":"left","values":[500,1000,1500],"title":null}}}},
 {"mark":{"type":"point","opacity":0},"encoding":{"x":{"field":"t","type":"quantitative","axis":null},"y":{"field":"l","type":"quantitative","axis":{"orient":"right","values":[500,1000,1500],"labels":false,"title":"n3"}}}},
 {"data":{"name":"yt"},"transform":[{"filter":"datum.c==='n3'"}],"mark":{"type":"rule","color":"black","strokeWidth":1.5,"strokeDash":[10,523]},"encoding":{"x":{"datum":-145.7,"type":"quantitative","axis":null},"x2":{"datum":242.1},"y":{"field":"v","type":"quantitative","axis":null}}},
 {"data":{"name":"ym"},"transform":[{"filter":"datum.c==='n3'"}],"mark":{"type":"rule","color":"black","strokeWidth":1.5,"strokeDash":[5,533]},"encoding":{"x":{"datum":-145.7,"type":"quantitative","axis":null},"x2":{"datum":242.1},"y":{"field":"v","type":"quantitative","axis":null}}},
 {"data":{"name":"xt"},"mark":{"type":"rule","color":"black","strokeWidth":1.5,"strokeDash":[8,32]},"encoding":{"x":{"field":"v","type":"quantitative","axis":null},"y":{"datum":110,"type":"quantitative","axis":null},"y2":{"datum":1516}}},
 {"data":{"name":"xm"},"mark":{"type":"rule","color":"black","strokeWidth":1.5,"strokeDash":[4,40]},"encoding":{"x":{"field":"v","type":"quantitative","axis":null},"y":{"datum":110,"type":"quantitative","axis":null},"y2":{"datum":1516}}}
 ],"resolve":{"axis":{"x":"independent","y":"independent"}}},
{"height":49,"width":543,"data":{"name":"n"},"transform":[{"filter":"datum.c==='n4'"}],"layer":[
 {"mark":{"type":"area","color":"black"},"encoding":{"x":{"field":"t","type":"quantitative","scale":{"domain":[-145.7,242.1],"nice":false,"zero":false},"axis":null},"y":{"field":"l","type":"quantitative","scale":{"domain":[100,1506],"nice":false,"zero":false},"axis":null},"y2":{"field":"h"}}},
 {"mark":{"type":"point","opacity":0},"encoding":{"x":{"field":"t","type":"quantitative","axis":null},"y":{"field":"l","type":"quantitative","axis":{"orient":"left","values":[500,1000,1500],"title":null}}}},
 {"mark":{"type":"point","opacity":0},"encoding":{"x":{"field":"t","type":"quantitative","axis":null},"y":{"field":"l","type":"quantitative","axis":{"orient":"right","values":[500,1000,1500],"labels":false,"title":"n4"}}}},
 {"data":{"name":"yt"},"transform":[{"filter":"datum.c==='n4'"}],"mark":{"type":"rule","color":"black","strokeWidth":1.5,"strokeDash":[10,523]},"encoding":{"x":{"datum":-145.7,"type":"quantitative","axis":null},"x2":{"datum":242.1},"y":{"field":"v","type":"quantitative","axis":null}}},
 {"data":{"name":"ym"},"transform":[{"filter":"datum.c==='n4'"}],"mark":{"type":"rule","color":"black","strokeWidth":1.5,"strokeDash":[5,533]},"encoding":{"x":{"datum":-145.7,"type":"quantitative","axis":null},"x2":{"datum":242.1},"y":{"field":"v","type":"quantitative","axis":null}}},
 {"data":{"name":"xt"},"mark":{"type":"rule","color":"black","strokeWidth":1.5,"strokeDash":[8,33]},"encoding":{"x":{"field":"v","type":"quantitative","axis":null},"y":{"datum":100,"type":"quantitative","axis":null},"y2":{"datum":1506}}},
 {"data":{"name":"xm"},"mark":{"type":"rule","color":"black","strokeWidth":1.5,"strokeDash":[4,41]},"encoding":{"x":{"field":"v","type":"quantitative","axis":null},"y":{"datum":100,"type":"quantitative","axis":null},"y2":{"datum":1506}}}
 ],"resolve":{"axis":{"x":"independent","y":"independent"}}},
{"height":48,"width":543,"data":{"name":"n"},"transform":[{"filter":"datum.c==='n5'"}],"layer":[
 {"mark":{"type":"area","color":"black"},"encoding":{"x":{"field":"t","type":"quantitative","scale":{"domain":[-145.7,242.1],"nice":false,"zero":false},"axis":null},"y":{"field":"l","type":"quantitative","scale":{"domain":[60,1369.5],"nice":false,"zero":false},"axis":null},"y2":{"field":"h"}}},
 {"mark":{"type":"point","opacity":0},"encoding":{"x":{"field":"t","type":"quantitative","axis":null},"y":{"field":"l","type":"quantitative","axis":{"orient":"left","values":[500,1000],"title":null}}}},
 {"mark":{"type":"point","opacity":0},"encoding":{"x":{"field":"t","type":"quantitative","axis":null},"y":{"field":"l","type":"quantitative","axis":{"orient":"right","values":[500,1000],"labels":false,"title":"n5"}}}},
 {"data":{"name":"yt"},"transform":[{"filter":"datum.c==='n5'"}],"mark":{"type":"rule","color":"black","strokeWidth":1.5,"strokeDash":[10,523]},"encoding":{"x":{"datum":-145.7,"type":"quantitative","axis":null},"x2":{"datum":242.1},"y":{"field":"v","type":"quantitative","axis":null}}},
 {"data":{"name":"ym"},"transform":[{"filter":"datum.c==='n5'"}],"mark":{"type":"rule","color":"black","strokeWidth":1.5,"strokeDash":[5,533]},"encoding":{"x":{"datum":-145.7,"type":"quantitative","axis":null},"x2":{"datum":242.1},"y":{"field":"v","type":"quantitative","axis":null}}},
 {"data":{"name":"xt"},"mark":{"type":"rule","color":"black","strokeWidth":1.5,"strokeDash":[8,32]},"encoding":{"x":{"field":"v","type":"quantitative","axis":null},"y":{"datum":60,"type":"quantitative","axis":null},"y2":{"datum":1369.5}}},
 {"data":{"name":"xm"},"mark":{"type":"rule","color":"black","strokeWidth":1.5,"strokeDash":[4,40]},"encoding":{"x":{"field":"v","type":"quantitative","axis":null},"y":{"datum":60,"type":"quantitative","axis":null},"y2":{"datum":1369.5}}}
 ],"resolve":{"axis":{"x":"independent","y":"independent"}}},
{"height":49,"width":543,"data":{"name":"n"},"transform":[{"filter":"datum.c==='n6'"}],"layer":[
 {"mark":{"type":"area","color":"black"},"encoding":{"x":{"field":"t","type":"quantitative","scale":{"domain":[-145.7,242.1],"nice":false,"zero":false},"axis":null},"y":{"field":"l","type":"quantitative","scale":{"domain":[140,1643.5],"nice":false,"zero":false},"axis":null},"y2":{"field":"h"}}},
 {"mark":{"type":"point","opacity":0},"encoding":{"x":{"field":"t","type":"quantitative","axis":null},"y":{"field":"l","type":"quantitative","axis":{"orient":"left","values":[500,1000,1500],"title":null}}}},
 {"mark":{"type":"point","opacity":0},"encoding":{"x":{"field":"t","type":"quantitative","axis":null},"y":{"field":"l","type":"quantitative","axis":{"orient":"right","values":[500,1000,1500],"labels":false,"title":"n6"}}}},
 {"data":{"name":"yt"},"transform":[{"filter":"datum.c==='n6'"}],"mark":{"type":"rule","color":"black","strokeWidth":1.5,"strokeDash":[10,523]},"encoding":{"x":{"datum":-145.7,"type":"quantitative","axis":null},"x2":{"datum":242.1},"y":{"field":"v","type":"quantitative","axis":null}}},
 {"data":{"name":"ym"},"transform":[{"filter":"datum.c==='n6'"}],"mark":{"type":"rule","color":"black","strokeWidth":1.5,"strokeDash":[5,533]},"encoding":{"x":{"datum":-145.7,"type":"quantitative","axis":null},"x2":{"datum":242.1},"y":{"field":"v","type":"quantitative","axis":null}}},
 {"data":{"name":"xt"},"mark":{"type":"rule","color":"black","strokeWidth":1.5,"strokeDash":[8,33]},"encoding":{"x":{"field":"v","type":"quantitative","axis":null},"y":{"datum":140,"type":"quantitative","axis":null},"y2":{"datum":1643.5}}},
 {"data":{"name":"xm"},"mark":{"type":"rule","color":"black","strokeWidth":1.5,"strokeDash":[4,41]},"encoding":{"x":{"field":"v","type":"quantitative","axis":null},"y":{"datum":140,"type":"quantitative","axis":null},"y2":{"datum":1643.5}}}
 ],"resolve":{"axis":{"x":"independent","y":"independent"}}},
{"height":48,"width":543,"data":{"name":"n"},"transform":[{"filter":"datum.c==='n7'"}],"layer":[
 {"mark":{"type":"area","color":"black"},"encoding":{"x":{"field":"t","type":"quantitative","scale":{"domain":[-145.7,242.1],"nice":false,"zero":false},"axis":null},"y":{"field":"l","type":"quantitative","scale":{"domain":[150,1605],"nice":false,"zero":false},"axis":null},"y2":{"field":"h"}}},
 {"mark":{"type":"point","opacity":0},"encoding":{"x":{"field":"t","type":"quantitative","axis":null},"y":{"field":"l","type":"quantitative","axis":{"orient":"left","values":[500,1000,1500],"title":null}}}},
 {"mark":{"type":"point","opacity":0},"encoding":{"x":{"field":"t","type":"quantitative","axis":null},"y":{"field":"l","type":"quantitative","axis":{"orient":"right","values":[500,1000,1500],"labels":false,"title":"n7"}}}},
 {"data":{"name":"yt"},"transform":[{"filter":"datum.c==='n7'"}],"mark":{"type":"rule","color":"black","strokeWidth":1.5,"strokeDash":[10,523]},"encoding":{"x":{"datum":-145.7,"type":"quantitative","axis":null},"x2":{"datum":242.1},"y":{"field":"v","type":"quantitative","axis":null}}},
 {"data":{"name":"ym"},"transform":[{"filter":"datum.c==='n7'"}],"mark":{"type":"rule","color":"black","strokeWidth":1.5,"strokeDash":[5,533]},"encoding":{"x":{"datum":-145.7,"type":"quantitative","axis":null},"x2":{"datum":242.1},"y":{"field":"v","type":"quantitative","axis":null}}},
 {"data":{"name":"xt"},"mark":{"type":"rule","color":"black","strokeWidth":1.5,"strokeDash":[8,32]},"encoding":{"x":{"field":"v","type":"quantitative","axis":null},"y":{"datum":150,"type":"quantitative","axis":null},"y2":{"datum":1605}}},
 {"data":{"name":"xm"},"mark":{"type":"rule","color":"black","strokeWidth":1.5,"strokeDash":[4,40]},"encoding":{"x":{"field":"v","type":"quantitative","axis":null},"y":{"datum":150,"type":"quantitative","axis":null},"y2":{"datum":1605}}}
 ],"resolve":{"axis":{"x":"independent","y":"independent"}}},
{"height":49,"width":543,"data":{"name":"n"},"transform":[{"filter":"datum.c==='n8'"}],"layer":[
 {"mark":{"type":"area","color":"black"},"encoding":{"x":{"field":"t","type":"quantitative","scale":{"domain":[-145.7,242.1],"nice":false,"zero":false},"axis":null},"y":{"field":"l","type":"quantitative","scale":{"domain":[40,719],"nice":false,"zero":false},"axis":null},"y2":{"field":"h"}}},
 {"mark":{"type":"point","opacity":0},"encoding":{"x":{"field":"t","type":"quantitative","axis":null},"y":{"field":"l","type":"quantitative","axis":{"orient":"left","values":[200,400,600],"title":null}}}},
 {"mark":{"type":"point","opacity":0},"encoding":{"x":{"field":"t","type":"quantitative","axis":null},"y":{"field":"l","type":"quantitative","axis":{"orient":"right","values":[200,400,600],"labels":false,"title":"n8"}}}},
 {"data":{"name":"yt"},"transform":[{"filter":"datum.c==='n8'"}],"mark":{"type":"rule","color":"black","strokeWidth":1.5,"strokeDash":[10,523]},"encoding":{"x":{"datum":-145.7,"type":"quantitative","axis":null},"x2":{"datum":242.1},"y":{"field":"v","type":"quantitative","axis":null}}},
 {"data":{"name":"ym"},"transform":[{"filter":"datum.c==='n8'"}],"mark":{"type":"rule","color":"black","strokeWidth":1.5,"strokeDash":[5,533]},"encoding":{"x":{"datum":-145.7,"type":"quantitative","axis":null},"x2":{"datum":242.1},"y":{"field":"v","type":"quantitative","axis":null}}},
 {"data":{"name":"xt"},"mark":{"type":"rule","color":"black","strokeWidth":1.5,"strokeDash":[8,33]},"encoding":{"x":{"field":"v","type":"quantitative","axis":null},"y":{"datum":40,"type":"quantitative","axis":null},"y2":{"datum":719}}},
 {"data":{"name":"xm"},"mark":{"type":"rule","color":"black","strokeWidth":1.5,"strokeDash":[4,41]},"encoding":{"x":{"field":"v","type":"quantitative","axis":null},"y":{"datum":40,"type":"quantitative","axis":null},"y2":{"datum":719}}}
 ],"resolve":{"axis":{"x":"independent","y":"independent"}}},
{"height":48,"width":543,"data":{"name":"n"},"transform":[{"filter":"datum.c==='n9'"}],"layer":[
 {"mark":{"type":"area","color":"black"},"encoding":{"x":{"field":"t","type":"quantitative","scale":{"domain":[-145.7,242.1],"nice":false,"zero":false},"axis":null},"y":{"field":"l","type":"quantitative","scale":{"domain":[90,1545],"nice":false,"zero":false},"axis":null},"y2":{"field":"h"}}},
 {"mark":{"type":"point","opacity":0},"encoding":{"x":{"field":"t","type":"quantitative","axis":null},"y":{"field":"l","type":"quantitative","axis":{"orient":"left","values":[500,1000,1500],"title":null}}}},
 {"mark":{"type":"point","opacity":0},"encoding":{"x":{"field":"t","type":"quantitative","axis":null},"y":{"field":"l","type":"quantitative","axis":{"orient":"right","values":[500,1000,1500],"labels":false,"title":"n9"}}}},
 {"data":{"name":"yt"},"transform":[{"filter":"datum.c==='n9'"}],"mark":{"type":"rule","color":"black","strokeWidth":1.5,"strokeDash":[10,523]},"encoding":{"x":{"datum":-145.7,"type":"quantitative","axis":null},"x2":{"datum":242.1},"y":{"field":"v","type":"quantitative","axis":null}}},
 {"data":{"name":"ym"},"transform":[{"filter":"datum.c==='n9'"}],"mark":{"type":"rule","color":"black","strokeWidth":1.5,"strokeDash":[5,533]},"encoding":{"x":{"datum":-145.7,"type":"quantitative","axis":null},"x2":{"datum":242.1},"y":{"field":"v","type":"quantitative","axis":null}}},
 {"data":{"name":"xt"},"mark":{"type":"rule","color":"black","strokeWidth":1.5,"strokeDash":[8,32]},"encoding":{"x":{"field":"v","type":"quantitative","axis":null},"y":{"datum":90,"type":"quantitative","axis":null},"y2":{"datum":1545}}},
 {"data":{"name":"xm"},"mark":{"type":"rule","color":"black","strokeWidth":1.5,"strokeDash":[4,40]},"encoding":{"x":{"field":"v","type":"quantitative","axis":null},"y":{"datum":90,"type":"quantitative","axis":null},"y2":{"datum":1545}}}
 ],"resolve":{"axis":{"x":"independent","y":"independent"}}},
{"height":49,"width":543,"data":{"name":"n"},"transform":[{"filter":"datum.c==='na'"}],"layer":[
 {"mark":{"type":"area","color":"black"},"encoding":{"x":{"field":"t","type":"quantitative","scale":{"domain":[-145.7,242.1],"nice":false,"zero":false},"axis":null},"y":{"field":"l","type":"quantitative","scale":{"domain":[85,1540],"nice":false,"zero":false},"axis":null},"y2":{"field":"h"}}},
 {"mark":{"type":"point","opacity":0},"encoding":{"x":{"field":"t","type":"quantitative","axis":null},"y":{"field":"l","type":"quantitative","axis":{"orient":"left","values":[500,1000,1500],"title":null}}}},
 {"mark":{"type":"point","opacity":0},"encoding":{"x":{"field":"t","type":"quantitative","axis":null},"y":{"field":"l","type":"quantitative","axis":{"orient":"right","values":[500,1000,1500],"labels":false,"title":"na"}}}},
 {"data":{"name":"yt"},"transform":[{"filter":"datum.c==='na'"}],"mark":{"type":"rule","color":"black","strokeWidth":1.5,"strokeDash":[10,523]},"encoding":{"x":{"datum":-145.7,"type":"quantitative","axis":null},"x2":{"datum":242.1},"y":{"field":"v","type":"quantitative","axis":null}}},
 {"data":{"name":"ym"},"transform":[{"filter":"datum.c==='na'"}],"mark":{"type":"rule","color":"black","strokeWidth":1.5,"strokeDash":[5,533]},"encoding":{"x":{"datum":-145.7,"type":"quantitative","axis":null},"x2":{"datum":242.1},"y":{"field":"v","type":"quantitative","axis":null}}},
 {"data":{"name":"xt"},"mark":{"type":"rule","color":"black","strokeWidth":1.5,"strokeDash":[8,33]},"encoding":{"x":{"field":"v","type":"quantitative","axis":null},"y":{"datum":85,"type":"quantitative","axis":null},"y2":{"datum":1540}}},
 {"data":{"name":"xm"},"mark":{"type":"rule","color":"black","strokeWidth":1.5,"strokeDash":[4,41]},"encoding":{"x":{"field":"v","type":"quantitative","axis":null},"y":{"datum":85,"type":"quantitative","axis":null},"y2":{"datum":1540}}}
 ],"resolve":{"axis":{"x":"independent","y":"independent"}}},
{"height":48,"width":543,"data":{"name":"n"},"transform":[{"filter":"datum.c==='nb'"}],
 "title":{"text":"3-Aug-2016 15:01","orient":"bottom","anchor":"end","frame":"group","fontSize":11,"fontWeight":"normal","color":"black","dx":67,"offset":12},
 "layer":[
 {"mark":{"type":"area","color":"black"},"encoding":{"x":{"field":"t","type":"quantitative","scale":{"domain":[-145.7,242.1],"nice":false,"zero":false},"axis":null},"y":{"field":"l","type":"quantitative","scale":{"domain":[30,1485],"nice":false,"zero":false},"axis":null},"y2":{"field":"h"}}},
 {"mark":{"type":"point","opacity":0},"encoding":{"x":{"field":"t","type":"quantitative","axis":{"orient":"bottom","values":[-100,0,100,200],"title":"Time − 491882767.747762 [sec]","titleFontSize":19.5,"titlePadding":16}},"y":{"field":"l","type":"quantitative","axis":{"orient":"left","values":[500,1000],"title":null}}}},
 {"mark":{"type":"point","opacity":0},"encoding":{"x":{"field":"t","type":"quantitative","axis":null},"y":{"field":"l","type":"quantitative","axis":{"orient":"right","values":[500,1000],"labels":false,"title":"nb"}}}},
 {"data":{"name":"yt"},"transform":[{"filter":"datum.c==='nb'"}],"mark":{"type":"rule","color":"black","strokeWidth":1.5,"strokeDash":[10,523]},"encoding":{"x":{"datum":-145.7,"type":"quantitative","axis":null},"x2":{"datum":242.1},"y":{"field":"v","type":"quantitative","axis":null}}},
 {"data":{"name":"ym"},"transform":[{"filter":"datum.c==='nb'"}],"mark":{"type":"rule","color":"black","strokeWidth":1.5,"strokeDash":[5,533]},"encoding":{"x":{"datum":-145.7,"type":"quantitative","axis":null},"x2":{"datum":242.1},"y":{"field":"v","type":"quantitative","axis":null}}},
 {"data":{"name":"xt"},"mark":{"type":"rule","color":"black","strokeWidth":1.5,"strokeDash":[8,32]},"encoding":{"x":{"field":"v","type":"quantitative","axis":null},"y":{"datum":30,"type":"quantitative","axis":null},"y2":{"datum":1485}}},
 {"data":{"name":"xm"},"mark":{"type":"rule","color":"black","strokeWidth":1.5,"strokeDash":[4,40]},"encoding":{"x":{"field":"v","type":"quantitative","axis":null},"y":{"datum":30,"type":"quantitative","axis":null},"y2":{"datum":1485}}}
 ],"resolve":{"axis":{"x":"independent","y":"independent"}}}
],
"config": {
 "view": {"stroke": "black", "strokeWidth": 1},
 "font": "Liberation Sans",
 "numberFormat": "d",
 "axis": {"domain": false, "grid": false, "ticks": false, "tickSize": 0, "labelColor": "black", "labelFont": "Liberation Sans", "labelFontSize": 17, "labelOverlap": false, "titleColor": "black", "titleFont": "Liberation Sans", "titleFontWeight": "normal"},
 "axisLeft": {"labelPadding": 13},
 "axisRight": {"titleAngle": 0, "titleAlign": "left", "titleBaseline": "middle", "titleFontSize": 12, "titlePadding": 8, "titleColor": "black"},
 "axisBottom": {"labelPadding": 6}
}
}
